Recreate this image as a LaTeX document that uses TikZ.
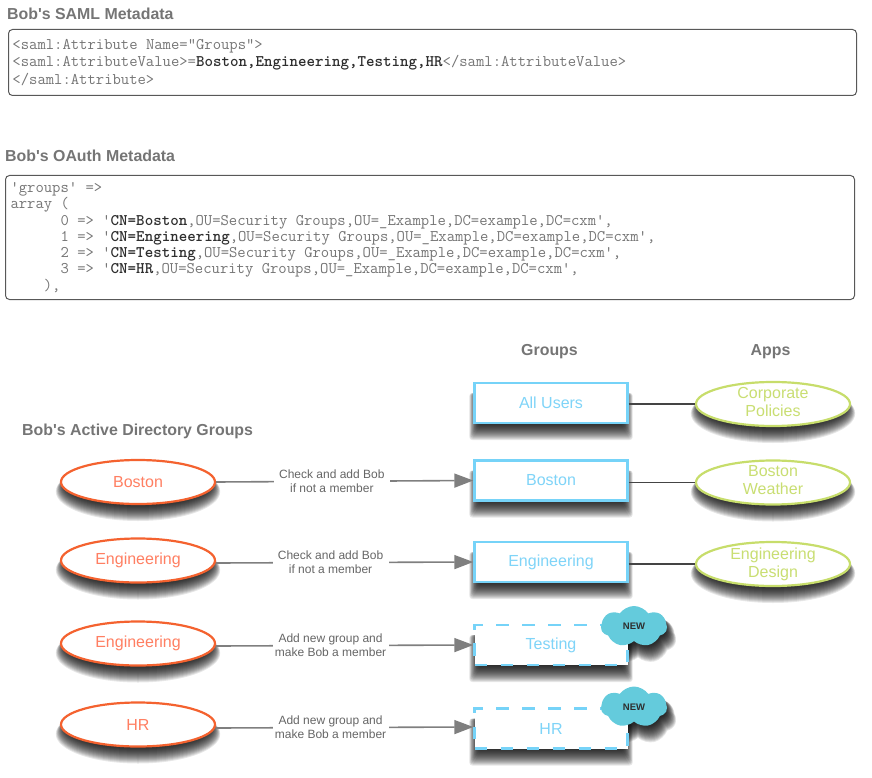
\documentclass[tikz,border=0pt]{standalone}
\usepackage{fontspec}
\newfontfamily\labelfont{Liberation Sans}
\usetikzlibrary{arrows.meta,shapes.geometric,shapes.symbols}
\definecolor{headgray}{HTML}{757575}
\definecolor{codegray}{HTML}{757575}
\definecolor{codedark}{HTML}{2E2E2E}
\definecolor{boxline}{HTML}{585858}
\definecolor{skyline}{HTML}{76D3F8}
\definecolor{skytext}{HTML}{7FD4F8}
\definecolor{redline}{HTML}{F4622F}
\definecolor{redtext}{HTML}{FF7F62}
\definecolor{greenline}{HTML}{C7DD6B}
\definecolor{greentext}{HTML}{C9DE72}
\definecolor{cloudfill}{HTML}{64CBDC}
\definecolor{arrowgray}{HTML}{7F7F7F}
\definecolor{linkdark}{HTML}{444444}
\definecolor{notegray}{HTML}{666666}
\newcommand{\cd}[1]{{\color{codedark}\bfseries #1}}
% Soft drop shadow: a stack of translucent copies of a shape, growing downward.
% #1 shape options, #2 centre x, #3 centre y, #4 width, #5 height, #6 top inset, #7 x offset
\newcommand{\softshade}[7]{%
  \foreach \d in {0,...,17}{%
    \pgfmathsetmacro\sw{#4+2*(.6*\d-5)}%
    \pgfmathsetmacro\sh{#5-#6+\d}%
    \pgfmathsetmacro\sy{#3+#6/2+\d/2}%
    \node[#1,name=softlayer,fill=black,fill opacity=.095,draw=none,inner sep=0pt,
      minimum width=\sw pt,minimum height=\sh pt] at ({#2+#7},\sy) {};
  }}
\tikzset{
  x=1pt, y=-1pt,
  heading/.style={font=\labelfont\bfseries\fontsize{15.9}{18}\selectfont,text=headgray,inner sep=0pt},
  codebox/.style={draw=boxline,line width=1pt,rounded corners=4pt,anchor=north west,align=left,
    font=\ttfamily\fontsize{16.2}{#1}\selectfont,execute at begin node={\spaceskip=8.4pt\relax},
    text=codegray,inner ysep=0pt},
  groupbox/.style={rectangle,draw=skyline,fill=white,line width=2.4pt,minimum width=153pt,minimum height=40pt,
    inner sep=0pt,font=\labelfont\fontsize{16}{18}\selectfont,text=skytext},
  newbox/.style={groupbox,dash pattern=on 12.5pt off 13.5pt},
  softrect/.style={rectangle,rounded corners=3pt},
  softoval/.style={ellipse},
  adgroup/.style={ellipse,draw=redline,fill=white,line width=2.2pt,minimum width=154pt,minimum height=44pt,
    inner sep=0pt,font=\labelfont\fontsize{16}{18}\selectfont,text=redtext},
  appnode/.style={ellipse,draw=greenline,fill=white,line width=2.2pt,minimum width=154pt,minimum height=44pt,
    inner sep=0pt},
  applabel/.style={align=center,inner sep=0pt,font=\labelfont\fontsize{16}{18}\selectfont,text=greentext},
  softcloud/.style={cloud,cloud puffs=7,cloud puff arc=110,aspect=1.7},
  newcloud/.style={softcloud,fill=cloudfill,draw=none,
    minimum width=66pt,minimum height=41pt,inner sep=0pt,
    font=\labelfont\bfseries\fontsize{9.5}{11}\selectfont,text=codedark},
  flow/.style={draw=arrowgray,line width=1.6pt,-{Triangle[length=19pt,width=14pt,fill=arrowgray]}},
  flownote/.style={fill=white,minimum width=116pt,inner xsep=0pt,inner ysep=1pt,align=center,
    font=\labelfont\fontsize{12}{14.2}\selectfont,text=notegray},
  link/.style={draw=linkdark,line width=1.9pt},
}
\begin{document}
\begin{tikzpicture}
\useasboundingbox (0,0) rectangle (872,778);

% metadata panels
\node[heading,anchor=west] (samlhead) at (7,13.5) {Bob's SAML Metadata};
\node[codebox={17.5pt},text width=840pt,inner xsep=4pt,minimum height=66pt] (saml) at (8,29)
  {<saml:Attribute Name="Groups">\\
   <saml:AttributeValue>=\cd{Boston,Engineering,Testing,HR}</saml:AttributeValue>\\
   </saml:Attribute>};

\node[heading,anchor=west] (oauthhead) at (5,155.5) {Bob's OAuth Metadata};
\node[codebox={16.3pt},text width=839pt,inner xsep=5pt,minimum height=124pt] (oauth) at (5,175)
  {'groups' =>\\
   array (\\
   \phantom{000000}0 => '\cd{CN=Boston},OU=Security Groups,OU=\_Example,DC=example,DC=cxm',\\
   \phantom{000000}1 => '\cd{CN=Engineering},OU=Security Groups,OU=\_Example,DC=example,DC=cxm',\\
   \phantom{000000}2 => '\cd{CN=Testing},OU=Security Groups,OU=\_Example,DC=example,DC=cxm',\\
   \phantom{000000}3 => '\cd{CN=HR},OU=Security Groups,OU=\_Example,DC=example,DC=cxm',\\
   \phantom{0000}),};

% column headings
\node[heading] (groupshead) at (549.5,351.5) {Groups};
\node[heading] (appshead) at (770.5,352) {Apps};
\node[heading,anchor=west] (adhead) at (22,431) {Bob's Active Directory Groups};

% shadows under the shapes
\softshade{softoval}{138}{482}{154}{44}{2}{0}
\softshade{softoval}{138}{560.5}{154}{44}{2}{0}
\softshade{softoval}{138}{643.5}{154}{44}{2}{0}
\softshade{softoval}{138}{724.5}{154}{44}{2}{0}
\softshade{softrect}{551}{403}{153}{40}{10}{0}
\softshade{softrect}{551}{480.5}{153}{40}{10}{0}
\softshade{softrect}{551}{562}{153}{40}{10}{0}
\softshade{softrect}{551}{645}{153}{40}{10}{0}
\softshade{softrect}{551}{728.5}{153}{40}{10}{0}
\softshade{softoval}{773}{404}{154}{44}{2}{0}
\softshade{softoval}{773}{482.5}{154}{44}{2}{0}
\softshade{softoval}{773}{564}{154}{44}{2}{0}
\softshade{softcloud}{634}{626.5}{66}{41}{6}{4}
\softshade{softcloud}{634}{707}{66}{41}{6}{4}

% directory groups
\node[adgroup] (adboston) at (138,482) {Boston};
\node[adgroup] (adeng) at (138,560.5) {Engineering};
\node[adgroup] (adtest) at (138,643.5) {Engineering};
\node[adgroup] (adhr) at (138,724.5) {HR};

% target groups
\node[groupbox] (gall) at (551,403) {All Users};
\node[groupbox] (gboston) at (551,480.5) {Boston};
\node[groupbox] (geng) at (551,562) {Engineering};
\node[newbox] (gtest) at (551,645) {Testing};
\node[newbox] (ghr) at (551,728.5) {HR};

% applications
\node[appnode,label={[applabel,yshift=2pt]center:Corporate\\Policies}] (acorp) at (773,404) {};
\node[appnode,label={[applabel,yshift=2pt]center:Boston\\Weather}] (aweather) at (773,482.5) {};
\node[appnode,label={[applabel]center:Engineering\\Design}] (adesign) at (773,564) {};

% badges on the newly created groups
\node[newcloud] (newa) at (634,626.5) {NEW};
\node[newcloud] (newb) at (634,707) {NEW};

% group mapping
\draw[flow] (adboston.east) -- node[flownote,pos=.45] {Check and add Bob\\if not a member} (gboston.west);
\draw[flow] ([yshift=-2.5pt]adeng.east) -- node[flownote,pos=.445] {Check and add Bob\\if not a member} (geng.west);
\draw[flow] ([yshift=-2.5pt]adtest.east) -- node[flownote,pos=.445] {Add new group and\\make Bob a member} (gtest.west);
\draw[flow] ([yshift=-3.5pt]adhr.east) -- node[flownote,pos=.445] {Add new group and\\make Bob a member} ([yshift=1.5pt]ghr.west);

% application assignments
\draw[link] (acorp.west -| gall.east) -- (acorp.west);
\draw[link] (aweather.west -| gboston.east) -- (aweather.west);
\draw[link] (adesign.west -| geng.east) -- (adesign.west);
\end{tikzpicture}
\end{document}
